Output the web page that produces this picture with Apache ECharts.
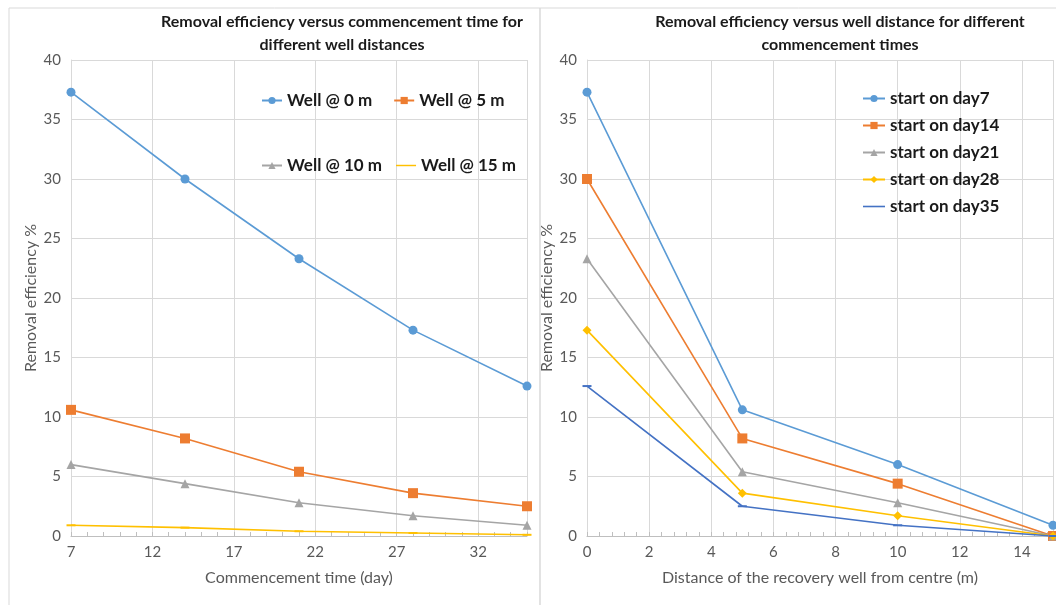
<!DOCTYPE html>
<html>
<head>
<meta charset="utf-8">
<script src="https://cdn.jsdelivr.net/npm/echarts@6/dist/echarts.min.js"></script>
<style>html,body{margin:0;padding:0;background:#fff}#c{width:1056px;height:605px}</style>
</head>
<body>
<div id="c"></div>
<script>
// ----- Data -----
const commenceDays = [7, 14, 21, 28, 35];
const well0 = [37.3, 30.0, 23.3, 17.3, 12.6];
const well5 = [10.6, 8.2, 5.4, 3.6, 2.5];
const well10 = [6.0, 4.4, 2.8, 1.7, 0.9];
const well15 = [0.9, 0.7, 0.4, 0.25, 0.1];
const leftNames = ['Well @ 0 m', 'Well @ 5 m', 'Well @ 10 m', 'Well @ 15 m'];

const distances = [0, 5, 10, 15];
const day7 = [37.3, 10.6, 6.0, 0.9];
const day14 = [30.0, 8.2, 4.4, 0];
const day21 = [23.3, 5.4, 2.8, 0];
const day28 = [17.3, 3.6, 1.7, 0];
const day35 = [12.6, 2.5, 0.9, 0];
const rightNames = ['start on day7', 'start on day14', 'start on day21', 'start on day28', 'start on day35'];

const leftTitle = 'Removal efficiency versus commencement time for\ndifferent well distances';
const rightTitle = 'Removal efficiency versus well distance for different\ncommencement times';
const yName = 'Removal efficiency %';
const leftXName = 'Commencement time (day)';
const rightXName = 'Distance of the recovery well from centre (m)';

// ----- Styles -----
const FONT = 'Lato, "Open Sans", sans-serif';
const C = {blue:'#5B9BD5', orange:'#ED7D31', gray:'#A5A5A5', yellow:'#FFC000', dblue:'#4472C4'};
const pair = (xs, ys) => xs.map((x, i) => [x, ys[i]]);
const DASH_ICON = 'path://M0,4 L22,4 L22,5.6 L0,5.6 Z';

function mk(name, xs, ys, color, symbol, size, idx) {
  return {
    name, type: 'line', xAxisIndex: idx, yAxisIndex: idx,
    data: pair(xs, ys), symbol, symbolSize: size,
    showSymbol: true, clip: false,
    lineStyle: {color, width: 1.6},
    itemStyle: {color},
    emphasis: {disabled: true}, animation: false
  };
}

const axisLabel = {color:'#595959', fontSize:15, fontFamily:FONT};
const nameStyle = {color:'#595959', fontSize:16, fontFamily:FONT};
const splitLine = {show:true, lineStyle:{color:'#D9D9D9', width:1}};
const legendText = {fontSize:17, fontWeight:'bold', color:'#1a1a1a', fontFamily:FONT};

function xAxis(idx, min, max, interval, name) {
  return {
    type:'value', gridIndex: idx, min, max, interval,
    name, nameLocation:'middle', nameGap: 34, nameTextStyle: nameStyle,
    axisLabel: Object.assign({showMaxLabel:false, margin:9}, axisLabel),
    axisLine: {show:true, lineStyle:{color:'#BFBFBF'}},
    axisTick: {show:true, inside:true, length:4, lineStyle:{color:'#BFBFBF'}},
    minorTick: {show:true, splitNumber:5, length:4, lineStyle:{color:'#BFBFBF'}},
    splitLine
  };
}
function yAxis(idx) {
  return {
    type:'value', gridIndex: idx, min:0, max:40, interval:5,
    name: yName, nameLocation:'middle', nameGap: 32, nameTextStyle: nameStyle,
    axisLabel: Object.assign({margin:10}, axisLabel),
    axisLine: {show:true, lineStyle:{color:'#D9D9D9'}},
    axisTick: {show:false},
    splitLine
  };
}

const option = {
  backgroundColor:'#fff',
  animation:false,
  graphic: [
    {type:'rect', shape:{x:9, y:8, width:531, height:640}, style:{fill:'none', stroke:'#D9D9D9', lineWidth:1}, silent:true},
    {type:'rect', shape:{x:540, y:8, width:540, height:640}, style:{fill:'none', stroke:'#D9D9D9', lineWidth:1}, silent:true}
  ],
  title: [
    {text:leftTitle, left:337, top:5, textAlign:'center',
     textStyle:{fontSize:16, fontWeight:'bold', color:'#1a1a1a', fontFamily:FONT, lineHeight:23}},
    {text:rightTitle, left:835, top:5, textAlign:'center',
     textStyle:{fontSize:16, fontWeight:'bold', color:'#1a1a1a', fontFamily:FONT, lineHeight:23}}
  ],
  legend: [
    {data:[leftNames[0], leftNames[1]], left:261, top:92, padding:0, itemWidth:20, itemHeight:9, itemGap:21, textStyle:legendText, selectedMode:false},
    {data:[leftNames[2], {name:leftNames[3], icon:DASH_ICON}], left:261, top:157, padding:0, itemWidth:20, itemHeight:9, itemGap:14, textStyle:legendText, selectedMode:false},
    {data:[rightNames[0], rightNames[1], rightNames[2], rightNames[3], {name:rightNames[4], icon:DASH_ICON}],
     orient:'vertical', left:862, top:88, padding:0, itemWidth:22, itemHeight:9, itemGap:6, textStyle:Object.assign({lineHeight:21}, legendText), selectedMode:false}
  ],
  grid: [
    {left:71, top:60, width:456, height:476},
    {left:587, top:60, width:466, height:476}
  ],
  xAxis: [
    xAxis(0, 7, 35, 5, leftXName),
    xAxis(1, 0, 15, 2, rightXName)
  ],
  yAxis: [yAxis(0), yAxis(1)],
  series: [
    mk(leftNames[0], commenceDays, well0, C.blue, 'circle', 9, 0),
    mk(leftNames[1], commenceDays, well5, C.orange, 'rect', 10, 0),
    mk(leftNames[2], commenceDays, well10, C.gray, 'triangle', 9, 0),
    mk(leftNames[3], commenceDays, well15, C.yellow, 'rect', [9, 2], 0),
    mk(rightNames[0], distances, day7, C.blue, 'circle', 9, 1),
    mk(rightNames[1], distances, day14, C.orange, 'rect', 10, 1),
    mk(rightNames[2], distances, day21, C.gray, 'triangle', 9, 1),
    mk(rightNames[3], distances, day28, C.yellow, 'diamond', 9, 1),
    mk(rightNames[4], distances, day35, C.dblue, 'rect', [9, 2], 1)
  ]
};
const chart = echarts.init(document.getElementById('c'), null, {renderer:'canvas'});
chart.setOption(option);
</script>
</body>
</html>
